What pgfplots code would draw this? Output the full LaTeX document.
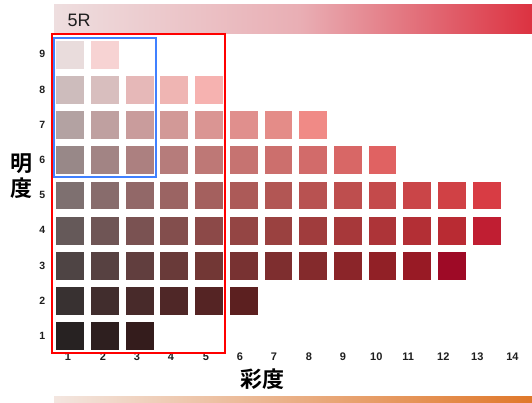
\documentclass[border=0pt]{standalone}
\usepackage{pgfplots}
\pgfplotsset{compat=1.18}
\usepackage{fontspec}
\setmainfont{Liberation Sans}
\newfontfamily\cjk{Noto Sans CJK JP}[BoldFont={Noto Sans CJK JP Bold}]
\definecolor{bnA}{RGB}{238,222,223}
\definecolor{bnB}{RGB}{233,174,180}
\definecolor{bnC}{RGB}{220,50,65}
\definecolor{btA}{RGB}{243,230,224}
\definecolor{btB}{RGB}{224,120,42}
\definecolor{frblue}{RGB}{64,128,255}
\definecolor{lblgray}{RGB}{30,30,30}
\newcommand\chip[5]{\addplot[only marks, mark=square*, mark size=13.4pt, color={rgb,255:red,#3;green,#4;blue,#5}] coordinates {(#1,#2)};}
\begin{document}
\begin{tikzpicture}
\useasboundingbox (0pt,0pt) rectangle (532pt,-403pt);
\fill[white] (0pt,0pt) rectangle (532pt,-403pt);
\shade[left color=bnA, right color=bnB] (54pt,-5pt) rectangle (300.5pt,-34pt);
\shade[left color=bnB, right color=bnC] (300pt,-5pt) rectangle (532pt,-34pt);
\node[anchor=west, font=\fontsize{18}{18}\selectfont, color=lblgray] at (64pt,-20pt) {5R};
\shade[left color=btA, right color=btB] (54pt,-396pt) rectangle (532pt,-403pt);
\begin{axis}[
  at={(42.2pt,-357.1pt)}, anchor=south west,
  x=34.7pt, y=35.2pt,
  xmin=0.2, xmax=14.4, ymin=0.4, ymax=9.8,
  axis lines*=left, axis line style={draw=none},
  tick style={draw=none},
  xtick={0.94,1.95,2.93,3.91,4.92,5.90,6.88,7.89,8.87,9.83,10.75,11.76,12.74,13.75},
  xticklabels={1,2,3,4,5,6,7,8,9,10,11,12,13,14},
  ytick={1,2,3,4,5,6,7,8,9},
  yticklabels={1,2,3,4,5,6,7,8,9},
  xticklabel style={font=\bfseries\fontsize{11}{11}\selectfont, anchor=center, color=lblgray},
  yticklabel style={font=\bfseries\fontsize{10.5}{10.5}\selectfont, anchor=center, color=lblgray},
  clip=false,
]
\chip{1}{9}{233}{220}{220}
\chip{2}{9}{247}{211}{211}
\chip{1}{8}{205}{188}{188}
\chip{2}{8}{216}{190}{190}
\chip{3}{8}{230}{184}{184}
\chip{4}{8}{239}{181}{179}
\chip{5}{8}{246}{178}{176}
\chip{1}{7}{179}{162}{162}
\chip{2}{7}{191}{160}{160}
\chip{3}{7}{201}{156}{156}
\chip{4}{7}{210}{153}{151}
\chip{5}{7}{218}{149}{147}
\chip{6}{7}{224}{143}{141}
\chip{7}{7}{228}{140}{136}
\chip{8}{7}{240}{138}{134}
\chip{1}{6}{152}{136}{136}
\chip{2}{6}{162}{132}{132}
\chip{3}{6}{172}{128}{128}
\chip{4}{6}{182}{124}{123}
\chip{5}{6}{190}{120}{118}
\chip{6}{6}{198}{115}{113}
\chip{7}{6}{204}{111}{109}
\chip{8}{6}{210}{107}{106}
\chip{9}{6}{216}{103}{102}
\chip{10}{6}{224}{98}{98}
\chip{1}{5}{126}{112}{112}
\chip{2}{5}{136}{108}{108}
\chip{3}{5}{146}{104}{104}
\chip{4}{5}{155}{100}{99}
\chip{5}{5}{164}{96}{94}
\chip{6}{5}{172}{90}{88}
\chip{7}{5}{178}{86}{84}
\chip{8}{5}{184}{82}{81}
\chip{9}{5}{190}{78}{78}
\chip{10}{5}{196}{74}{75}
\chip{11}{5}{202}{69}{72}
\chip{12}{5}{208}{65}{69}
\chip{13}{5}{216}{60}{68}
\chip{1}{4}{101}{89}{89}
\chip{2}{4}{111}{85}{85}
\chip{3}{4}{122}{82}{82}
\chip{4}{4}{131}{78}{77}
\chip{5}{4}{140}{73}{72}
\chip{6}{4}{148}{69}{68}
\chip{7}{4}{154}{65}{64}
\chip{8}{4}{160}{60}{61}
\chip{9}{4}{167}{56}{58}
\chip{10}{4}{173}{52}{56}
\chip{11}{4}{179}{47}{53}
\chip{12}{4}{185}{43}{51}
\chip{13}{4}{192}{30}{50}
\chip{1}{3}{78}{68}{68}
\chip{2}{3}{87}{65}{65}
\chip{3}{3}{97}{62}{62}
\chip{4}{3}{105}{58}{57}
\chip{5}{3}{114}{55}{53}
\chip{6}{3}{120}{50}{50}
\chip{7}{3}{126}{46}{47}
\chip{8}{3}{132}{42}{44}
\chip{9}{3}{139}{37}{41}
\chip{10}{3}{145}{32}{38}
\chip{11}{3}{152}{26}{37}
\chip{12}{3}{158}{10}{38}
\chip{1}{2}{56}{49}{49}
\chip{2}{2}{65}{45}{45}
\chip{3}{2}{72}{42}{42}
\chip{4}{2}{79}{39}{39}
\chip{5}{2}{85}{36}{36}
\chip{6}{2}{92}{32}{32}
\chip{1}{1}{39}{34}{34}
\chip{2}{1}{46}{31}{31}
\chip{3}{1}{52}{28}{28}
\draw[red, line width=2pt] (axis cs:0.48,0.52) rectangle (axis cs:5.47,9.59);
\draw[frblue, line width=2pt] (axis cs:0.54,5.53) rectangle (axis cs:3.48,9.47);
\end{axis}
\node[font=\cjk\bfseries\fontsize{22}{22}\selectfont] at (21pt,-164pt) {明};
\node[font=\cjk\bfseries\fontsize{22}{22}\selectfont] at (21pt,-188pt) {度};
\node[font=\cjk\bfseries\fontsize{22}{22}\selectfont] at (262pt,-379pt) {彩度};
\end{tikzpicture}
\end{document}
